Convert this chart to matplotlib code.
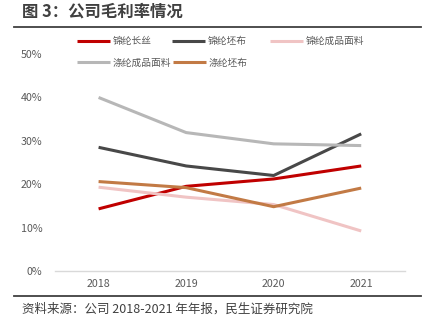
import matplotlib
matplotlib.use("Agg")
import matplotlib.pyplot as plt
from matplotlib.ticker import PercentFormatter

plt.rcParams['font.family'] = ['Noto Sans CJK SC', 'DejaVu Sans']

# 数据（毛利率，%）
years = ["2018", "2019", "2020", "2021"]
jinlun_changsi = [14.3, 19.5, 21.2, 24.2]
jinlun_pibu = [28.5, 24.2, 22.0, 31.6]
jinlun_mianliao = [19.3, 17.0, 15.3, 9.2]
dilun_mianliao = [40.0, 31.9, 29.3, 28.9]
dilun_pibu = [20.6, 19.2, 14.8, 19.1]

series = [
    ("锦纶长丝", jinlun_changsi, "#C00000"),
    ("锦纶坯布", jinlun_pibu, "#484848"),
    ("锦纶成品面料", jinlun_mianliao, "#F0C4C4"),
    ("涤纶成品面料", dilun_mianliao, "#B7B7B7"),
    ("涤纶坯布", dilun_pibu, "#C27A45"),
]

# 图例位置（figure 坐标）
legend_pos = [(0.177, 0.873), (0.395, 0.873), (0.621, 0.873),
              (0.177, 0.806), (0.397, 0.806)]

fig = plt.figure(figsize=(4.35, 3.24), dpi=100)
ax = fig.add_axes([0.126, 0.164, 0.805, 0.669])

x = range(len(years))
for (name, vals, c), pos in zip(series, legend_pos):
    h, = ax.plot(x, vals, color=c, lw=2.2, label=name, solid_capstyle='butt')
    leg = fig.legend([h], [name], loc="center left", bbox_to_anchor=pos,
                     frameon=False, fontsize=7, handlelength=3.4,
                     handletextpad=0.25, borderpad=0, borderaxespad=0)
    for t in leg.get_texts():
        t.set_color("#595959")

ax.set_xlim(-0.5, 3.5)
ax.set_ylim(0, 50)
ax.set_yticks([0, 10, 20, 30, 40, 50])
ax.yaxis.set_major_formatter(PercentFormatter(decimals=0))
ax.set_xticks(list(x))
ax.set_xticklabels(years)
ax.tick_params(length=0, labelsize=7.7, labelcolor="#595959")
ax.tick_params(axis='y', pad=9)
ax.tick_params(axis='x', pad=6)
for s in ["top", "right", "left"]:
    ax.spines[s].set_visible(False)
ax.spines["bottom"].set_color("#D9D9D9")
ax.spines["bottom"].set_linewidth(1.0)

# 标题与来源
fig.text(0.05, 0.963, "图 3：公司毛利率情况", fontsize=11.8, fontweight="bold",
         color="#404040", va="center", ha="left")
fig.add_artist(plt.Line2D([0.032, 0.968], [0.918, 0.918], color="#404040", lw=1.3))
fig.add_artist(plt.Line2D([0.032, 0.968], [0.087, 0.087], color="#404040", lw=1.3))
fig.text(0.05, 0.047, "资料来源：公司 2018-2021 年年报，民生证券研究院", fontsize=9,
         color="#404040", va="center", ha="left")

fig.savefig("out.png", dpi=100)
